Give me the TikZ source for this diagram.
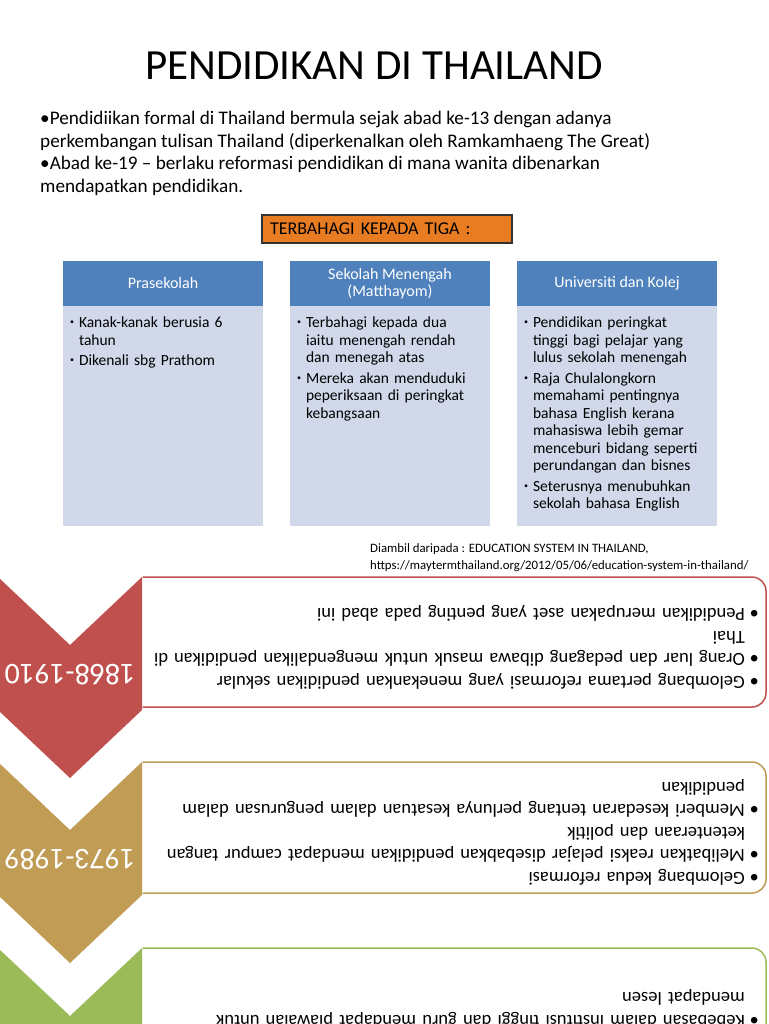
\documentclass[tikz,border=0pt]{standalone}
\usepackage{fontspec}
\setmainfont{Carlito}
\usepackage{tikz}
\usetikzlibrary{positioning,calc}
\usepackage{xcolor}
\definecolor{hdrblue}{HTML}{4F81BD}
\definecolor{bodyblue}{HTML}{D0D8E9}
\definecolor{tigaorange}{HTML}{E87C22}
\definecolor{wavered}{HTML}{C0504D}
\definecolor{wavetan}{HTML}{C09C55}
\definecolor{wavegreen}{HTML}{9BBB59}
\newcommand{\colitem}[1]{\par\hangindent=9pt\hangafter=1\noindent\makebox[9pt][l]{\raisebox{3pt}{\fontsize{8}{8}\selectfont •}}#1\par}
\newcommand{\waveitem}[1]{\par\hangindent=14pt\hangafter=1\noindent\makebox[14pt][l]{•}#1\par}
\tikzset{
  titletext/.style={font=\fontsize{43}{50}\selectfont, inner sep=0pt},
  introtext/.style={anchor=north west, align=left, inner sep=0pt, font=\fontsize{19.2}{22.7}\selectfont},
  tigabox/.style={draw=black!80, line width=1.2pt, fill=tigaorange, minimum width=250pt, minimum height=28pt, text width=234pt, inner xsep=8pt, inner ysep=0pt, align=left, font=\fontsize{18}{20}\selectfont},
  hdrbox/.style={fill=hdrblue, text=white, minimum width=200pt, minimum height=45pt, inner sep=0pt, align=center, font=\fontsize{16}{17.5}\selectfont},
  bodybox/.style={fill=bodyblue, minimum width=200pt, minimum height=220pt, inner sep=0pt},
  coltext/.style={anchor=north west, text width=190pt, align=left, inner sep=0pt, font=\fontsize{15.5}{17.5}\selectfont\setlength\parskip{3pt}},
  citetext/.style={anchor=north west, align=left, inner sep=0pt, font=\fontsize{12.8}{17}\selectfont},
  wavebox/.style={draw=#1, fill=white, line width=1.5pt, rounded corners=14pt},
  chevron/.style={fill=#1, draw=none},
  yeartext/.style={rotate=180, text=white, inner sep=0pt, font=\fontsize{30}{30}\selectfont},
  wavetext/.style={rotate=180, anchor=north west, text width=650pt, align=left, inner sep=0pt, font=\fontsize{18.5}{22.5}\selectfont}
}

\begin{document}
\begin{tikzpicture}[x=1pt,y=-1pt]
\useasboundingbox (0,0) rectangle (768,1024);
\clip (0,0) rectangle (768,1024);
% title and intro
\node[titletext] (title) at (374,66) {PENDIDIKAN DI THAILAND};
\node[introtext] (intro) at (40,111) {•Pendidiikan formal di Thailand bermula sejak abad ke-13 dengan adanya\\perkembangan tulisan Thailand (diperkenalkan oleh Ramkamhaeng The Great)\\•Abad ke-19 – berlaku reformasi pendidikan di mana wanita dibenarkan\\mendapatkan pendidikan.};
\node[tigabox] (tiga) at (387,229) {TERBAHAGI KEPADA TIGA :};
% three columns
\node[hdrbox] (hdrpra) at (163,283.5) {Prasekolah};
\node[bodybox, below=0pt of hdrpra] (bodypra) {};
\node[hdrbox] (hdrsek) at (390,283.5) {Sekolah Menengah\\(Matthayom)};
\node[bodybox, below=0pt of hdrsek] (bodysek) {};
\node[hdrbox] (hdruni) at (617,283.5) {Universiti dan Kolej};
\node[bodybox, below=0pt of hdruni] (bodyuni) {};
\node[coltext] (txtpra) at ($(bodypra.north west)+(7,1)$) {\colitem{Kanak-kanak berusia 6\newline tahun}\colitem{Dikenali sbg Prathom}};
\node[coltext] (txtsek) at ($(bodysek.north west)+(7,1)$) {\colitem{Terbahagi kepada dua\newline iaitu menengah rendah\newline dan menegah atas}\colitem{Mereka akan menduduki\newline peperiksaan di peringkat\newline kebangsaan}};
\node[coltext] (txtuni) at ($(bodyuni.north west)+(7,1)$) {\colitem{Pendidikan peringkat\newline tinggi bagi pelajar yang\newline lulus sekolah menengah}\colitem{Raja Chulalongkorn\newline memahami pentingnya\newline bahasa English kerana\newline mahasiswa lebih gemar\newline menceburi bidang seperti\newline perundangan dan bisnes}\colitem{Seterusnya menubuhkan\newline sekolah bahasa English}};
% source
\node[citetext] (cite) at (370,543) {Diambil daripada : EDUCATION SYSTEM IN THAILAND,\\https://maytermthailand.org/2012/05/06/education-system-in-thailand/};
% timeline boxes
\begin{scope}
\clip (142.5,560) rectangle (780,1040);
\draw[wavebox=wavered] (110,577) rectangle (766,707);
\draw[wavebox=wavetan] (110,762) rectangle (766,893);
\draw[wavebox=wavegreen] (110,948) rectangle (766,1100);
\end{scope}
% chevrons
\fill[chevron=wavered] (-2,577) -- (70,645) -- (142,577) -- (142,710) -- (70,778) -- (-2,710) -- cycle;
\fill[chevron=wavetan] (-2,762) -- (70,830) -- (142,762) -- (142,895) -- (70,963) -- (-2,895) -- cycle;
\fill[chevron=wavegreen] (-2,948) -- (70,1016) -- (142,948) -- (142,1081) -- (70,1149) -- (-2,1081) -- cycle;
\node[yeartext] (yrred) at (70,675) {1868-1910};
\node[yeartext] (yrtan) at (70,860) {1973-1989};
% upside-down text
\node[wavetext] (txtred) at (759,699) {\waveitem{Gelombang pertama reformasi yang menekankan pendidikan sekular}\waveitem{Orang luar dan pedagang dibawa masuk untuk mengendalikan pendidikan di\newline Thai}\waveitem{Pendidikan merupakan aset yang penting pada abad ini}};
\node[wavetext] (txttan) at (759,895) {\waveitem{Gelombang kedua reformasi}\waveitem{Melibatkan reaksi pelajar disebabkan pendidikan mendapat campur tangan\newline ketenteraan dan politik}\waveitem{Memberi kesedaran tentang perlunya kesatuan dalam pengurusan dalam\newline pendidikan}};
\node[wavetext] (txtgreen) at (759,1038) {\waveitem{Kebebasan dalam institusi tinggi dan guru mendapat piawaian untuk\newline mendapat lesen}};
\end{tikzpicture}
\end{document}
